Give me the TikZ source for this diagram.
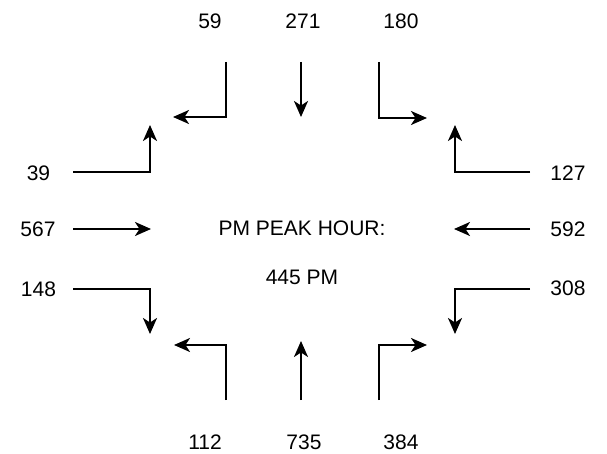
\documentclass[tikz,border=0pt]{standalone}
\usepackage{fontspec}
\setmainfont{Liberation Sans}
\usetikzlibrary{arrows.meta}
\begin{document}
\begin{tikzpicture}[x=1pt,y=-1pt,
  lbl/.style={font=\fontsize{21}{24}\selectfont, inner sep=0pt},
  mv/.style={line width=2.2pt, -{Stealth[length=16pt,width=14pt,inset=4.5pt]}}]
\useasboundingbox[fill=white] (0,0) rectangle (607,454);
% labels
\node[lbl] (t1) at (210,21) {59};
\node[lbl] (t2) at (303,21) {271};
\node[lbl] (t3) at (401,21) {180};
\node[lbl] (l1) at (38.5,173) {39};
\node[lbl] (l2) at (38,229.5) {567};
\node[lbl] (l3) at (38.5,289) {148};
\node[lbl] (r1) at (568,173) {127};
\node[lbl] (r2) at (568,229.5) {592};
\node[lbl] (r3) at (568,288.5) {308};
\node[lbl] (b1) at (205,442) {112};
\node[lbl] (b2) at (304,442) {735};
\node[lbl] (b3) at (401,442) {384};
\node[lbl] (c1) at (302,228.5) {PM PEAK HOUR:};
\node[lbl] (c2) at (302,277) {445 PM};
% coordinates
\coordinate (a1) at (226,62); \coordinate (a1t) at (173,117);
\coordinate (a2) at (301,62); \coordinate (a2t) at (301,117);
\coordinate (a3) at (379,62); \coordinate (a3t) at (427,118);
\coordinate (b1s) at (73,172); \coordinate (b1e) at (150,125);
\coordinate (b2s) at (73,229); \coordinate (b2e) at (151,229);
\coordinate (b3s) at (73,289); \coordinate (b3e) at (150,334);
\coordinate (d1s) at (530,172); \coordinate (d1e) at (455,125);
\coordinate (d2s) at (530,229); \coordinate (d2e) at (454,229);
\coordinate (d3s) at (530,289); \coordinate (d3e) at (455,334);
\coordinate (e1s) at (226,400); \coordinate (e1e) at (174,345);
\coordinate (e2s) at (301,400); \coordinate (e2e) at (301,341);
\coordinate (e3s) at (379,400); \coordinate (e3e) at (427,345);
% arrows
\draw[mv] (a1) |- (a1t);
\draw[mv] (a2) -- (a2t);
\draw[mv] (a3) |- (a3t);
\draw[mv] (b1s) -| (b1e);
\draw[mv] (b2s) -- (b2e);
\draw[mv] (b3s) -| (b3e);
\draw[mv] (d1s) -| (d1e);
\draw[mv] (d2s) -- (d2e);
\draw[mv] (d3s) -| (d3e);
\draw[mv] (e1s) |- (e1e);
\draw[mv] (e2s) -- (e2e);
\draw[mv] (e3s) |- (e3e);
\end{tikzpicture}
\end{document}
